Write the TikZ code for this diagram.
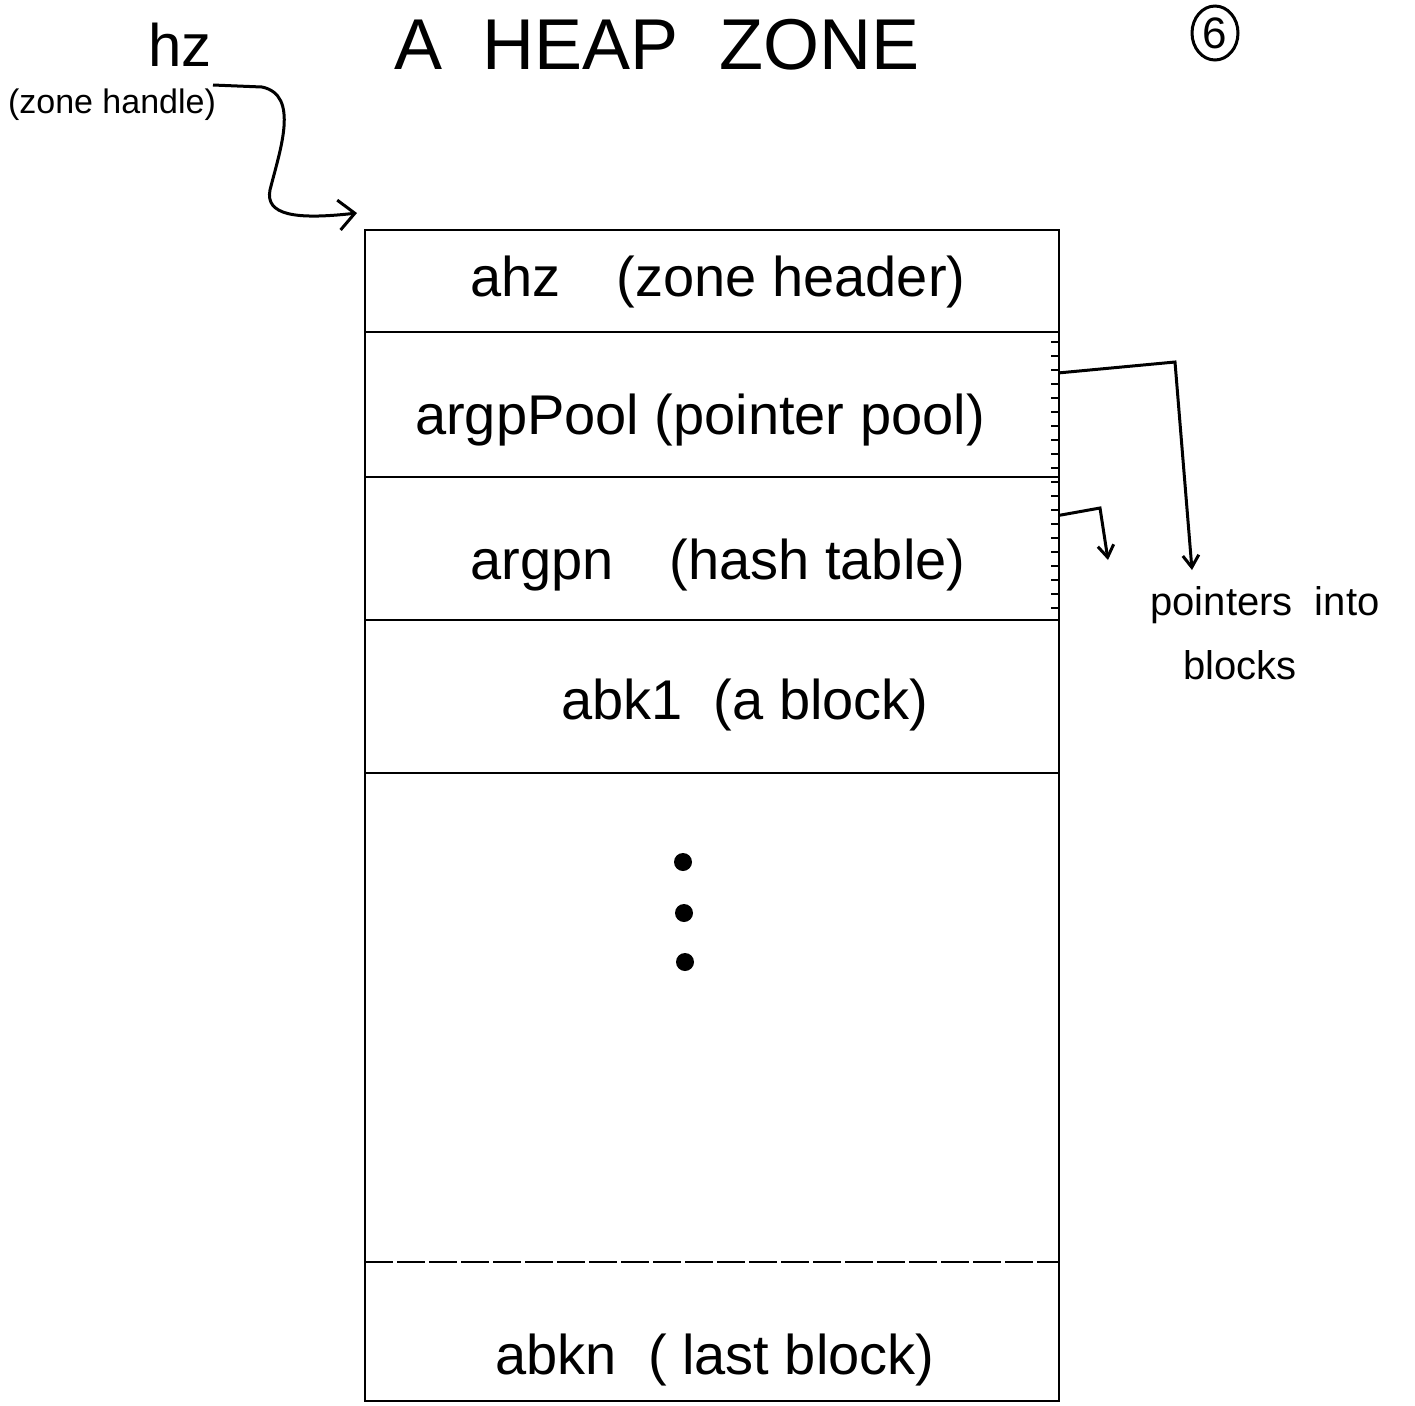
\documentclass[tikz,border=0pt]{standalone}
\usepackage{fontspec}
\setmainfont{Liberation Sans}
\usetikzlibrary{arrows.meta,shapes.geometric}
\begin{document}
\begin{tikzpicture}[x=0.5pt,y=-0.5pt,
  row/.style={minimum width=346.5pt,inner sep=0pt,anchor=north west},
  edge/.style={line width=1.3pt},
  lbl/.style={font=\fontsize{28}{32}\selectfont,inner sep=0pt},
  ptr/.style={line width=1.5pt,-{Straight Barb[length=6pt,width=8pt]}},
  bigdot/.style={circle,fill,inner sep=0pt,minimum size=9pt}]
\useasboundingbox (0,0) rectangle (1415,1405);
% title and page number
\node[font=\fontsize{36}{40}\selectfont,inner sep=0pt] (title) at (657,45) {A\ \ HEAP\ \ ZONE};
\node[draw,ellipse,line width=1.5pt,minimum width=23pt,minimum height=27pt,inner sep=0pt,font=\fontsize{22}{24}\selectfont] (pg) at (1215,33) {6};
% zone handle label
\node[font=\fontsize{30}{34}\selectfont,inner sep=0pt] (hz) at (180,45) {hz};
\node[font=\fontsize{17}{20}\selectfont,inner sep=0pt] (hzc) at (112,105) {(zone handle)};
% rows of the zone
\node[row,minimum height=51pt] (ahz) at (365,230) {};
\node[row,minimum height=72.5pt] (pool) at (365,332) {};
\node[row,minimum height=71.5pt] (hash) at (365,477) {};
\node[row,minimum height=76.5pt] (abk1) at (365,620) {};
\node[row,minimum height=244.5pt] (mid) at (365,773) {};
\node[row,minimum height=69pt] (abkn) at (365,1262) {};
\draw[edge] (ahz.north west) rectangle (abkn.south east);
\draw[edge] (pool.north west) -- (pool.north east);
\draw[edge] (hash.north west) -- (hash.north east);
\draw[edge] (abk1.north west) -- (abk1.north east);
\draw[edge] (mid.north west) -- (mid.north east);
\draw[edge,dash pattern=on 14pt off 2pt] (abkn.north west) -- (abkn.north east);
% labels
\node[lbl] (t1) at (718,282) {ahz\quad(zone header)};
\node[lbl] (t2) at (700,420) {argpPool (pointer pool)};
\node[lbl] (t3) at (718,565) {argpn\quad(hash table)};
\node[lbl] (t4) at (745,705) {abk1 \ (a block)};
\node[lbl] (t5) at (715,1360) {abkn \ ( last block)};
% dots
\node[bigdot] (d1) at (683,862) {};
\node[bigdot] (d2) at (684,913) {};
\node[bigdot] (d3) at (685,962) {};
% ticks on the pointer area
\foreach \y in {342,356,370,384,398,412,426,440,454,468,482,496,510,524,538,552,566,580,594,608}
  \draw[line width=1.2pt] (1051,\y) -- (1058,\y);
% handle arrow
\coordinate (hzs) at (213,85);
\coordinate (hzend) at (357,213);
\draw[line width=1.5pt,-{Straight Barb[length=8pt,width=15pt]}] (hzs) -- (262,87) .. controls (300,95) and (280,150) .. (270,190) .. controls (265,215) and (295,220) .. (hzend);
% pointers into blocks
\coordinate (e1) at (1192,570);
\coordinate (e2) at (1108,560);
\draw[ptr] ([yshift=16pt]pool.east) -- (1175,362) -- (e1);
\draw[ptr] ([yshift=16.75pt]hash.east) -- (1100,508) -- (e2);
\node[font=\fontsize{20}{24}\selectfont,inner sep=0pt] (pin) at (1265,605) {pointers\ \ into};
\node[font=\fontsize{20}{24}\selectfont,inner sep=0pt] (blk) at (1240,665) {blocks};
\end{tikzpicture}
\end{document}
